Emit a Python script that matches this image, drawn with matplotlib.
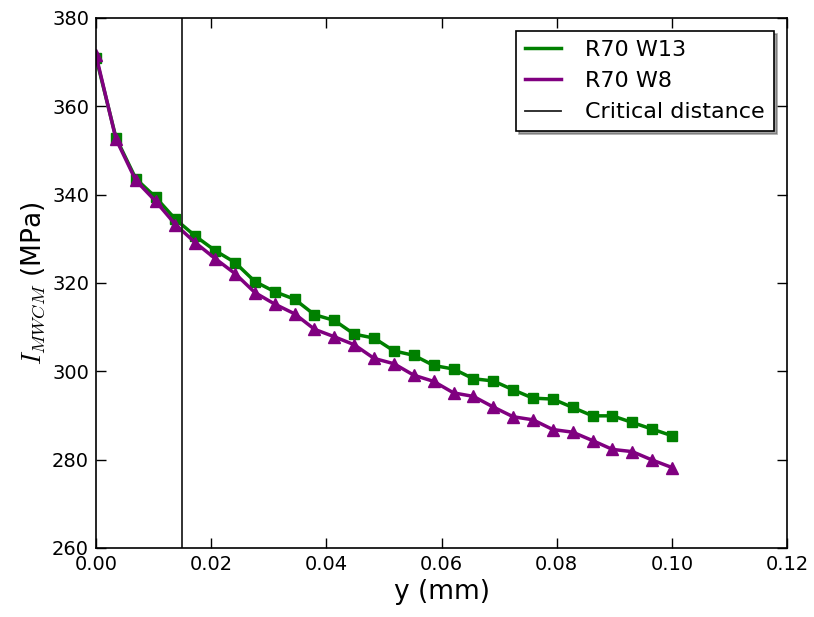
import matplotlib
matplotlib.use('Agg')
import matplotlib.pyplot as plt

plt.rcParams['font.family'] = 'DejaVu Sans'
plt.rcParams['mathtext.fontset'] = 'cm'

# distance from surface (mm)
y_mm = [0.0, 0.00345, 0.0069, 0.01034, 0.01379, 0.01724, 0.02069, 0.02414,
        0.02759, 0.03103, 0.03448, 0.03793, 0.04138, 0.04483, 0.04828,
        0.05172, 0.05517, 0.05862, 0.06207, 0.06552, 0.06897, 0.07241,
        0.07586, 0.07931, 0.08276, 0.08621, 0.08966, 0.0931, 0.09655, 0.1]

# R70 W13
w13 = [371.0, 352.9, 343.6, 339.4, 334.4, 330.6, 327.3, 324.6, 320.3, 318.0,
       316.3, 312.8, 311.5, 308.4, 307.5, 304.6, 303.6, 301.3, 300.5, 298.3,
       297.8, 295.8, 293.9, 293.7, 291.8, 289.9, 289.9, 288.4, 286.9, 285.4]

# R70 W8
w8 = [371.5, 352.6, 343.2, 338.5, 333.2, 329.1, 325.5, 322.1, 317.8, 315.2,
      313.0, 309.5, 307.8, 306.0, 302.9, 301.7, 299.1, 297.7, 295.1, 294.3,
      291.9, 289.7, 289.0, 286.8, 286.2, 284.3, 282.3, 281.8, 279.9, 278.2]

critical = 0.015

fig = plt.figure(figsize=(8.14, 6.17), dpi=100)
ax = fig.add_axes([0.118, 0.112, 0.849, 0.859])

ax.plot(y_mm, w13, color='green', lw=2.5, marker='s', ms=7, mec='green',
        label='R70 W13')
ax.plot(y_mm, w8, color='purple', lw=2.5, marker='^', ms=8, mec='purple',
        label='R70 W8')
ax.axvline(critical, color='#222222', lw=1.3, label='Critical distance')

# legend shows lines only
leg = ax.legend(loc='upper right', fontsize=16, fancybox=False, shadow=True,
                edgecolor='black', framealpha=1, handlelength=1.6,
                handletextpad=1.1, borderaxespad=0.6)
leg.get_frame().set_linewidth(1.2)
for line in leg.get_lines():
    line.set_marker('')

ax.set_xlim(0, 0.12)
ax.set_ylim(260, 380)
ax.set_xticks([0.0, 0.02, 0.04, 0.06, 0.08, 0.10, 0.12])
ax.set_yticks([260, 280, 300, 320, 340, 360, 380])
ax.set_xticklabels(['0.00', '0.02', '0.04', '0.06', '0.08', '0.10', '0.12'])
ax.tick_params(direction='in', top=True, right=True, length=7, width=1,
               labelsize=14, pad=5)
for s in ax.spines.values():
    s.set_linewidth(1.2)

ax.set_xlabel('y (mm)', fontsize=19)
ax.set_ylabel('$I_{MWCM}$ (MPa)', fontsize=19)

fig.savefig('out.png', dpi=100)
